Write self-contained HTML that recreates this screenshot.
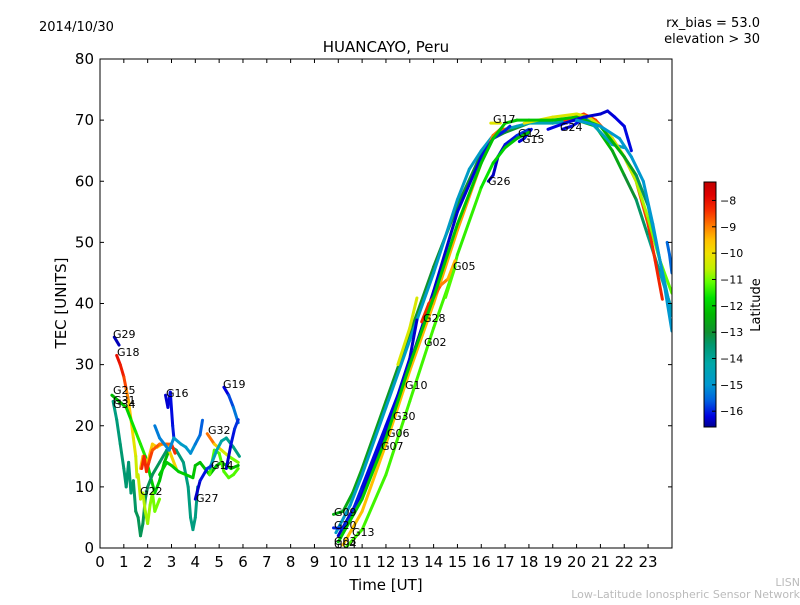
<!DOCTYPE html>
<html><head><meta charset="utf-8"><style>
body{margin:0;background:#fff;}
svg text{font-family:"DejaVu Sans","Liberation Sans",sans-serif;}
</style></head><body>
<svg id="chart" width="800" height="600" xmlns="http://www.w3.org/2000/svg">
<defs>
<linearGradient id="cbg" x1="0" y1="0" x2="0" y2="1"></linearGradient>
<clipPath id="pc"><rect x="100" y="59" width="572" height="489"/></clipPath>
</defs>
<text x="39" y="31" font-size="13">2014/10/30</text>
<text x="760" y="27" font-size="13" text-anchor="end">rx_bias = 53.0</text>
<text x="760" y="43" font-size="13" text-anchor="end">elevation &gt; 30</text>
<text x="386" y="52" font-size="15" text-anchor="middle">HUANCAYO, Peru</text>
<g id="marks" clip-path="url(#pc)"></g>
<g id="labels"></g>
<rect x="100" y="59" width="572" height="489" fill="none" stroke="#000" stroke-width="1"/>
<g id="axes"></g>
<text x="386" y="590" font-size="15" text-anchor="middle">Time [UT]</text>
<text transform="translate(66,303) rotate(-90)" font-size="15" text-anchor="middle">TEC [UNITS]</text>
<rect x="704" y="182" width="12" height="245" fill="url(#cbg)" stroke="#000" stroke-width="1"/>
<g id="cbaxis"></g>
<text transform="translate(760,305) rotate(-90)" font-size="13" text-anchor="middle">Latitude</text>
<text x="800" y="586" font-size="11" fill="#bbb" text-anchor="end">LISN</text>
<text x="800" y="598" font-size="11" fill="#bbb" text-anchor="end">Low-Latitude Ionospheric Sensor Network</text>
</svg>
<script>
const xTicks=[0,1,2,3,4,5,6,7,8,9,10,11,12,13,14,15,16,17,18,19,20,21,22,23];
const yTicks=[0,10,20,30,40,50,60,70,80];
const cbTicks=[-8,-9,-10,-11,-12,-13,-14,-15,-16];
const latMin=-16.6, latMax=-7.3;
const seriesNames=["G29","G18","G25","G31","G22y","G22o","G22r","G16","G16b","G16t","mid-green","mid-lime","G32","G32t","G19","G27","G27b",
"G09","R-teal","R-orange","R-blue","G26","G15","G24","R-lime","G20","G10y","G28","G05","G17y","D-red","D-yellow","D-green","D-blue","D-teal","edge-blue"];
const seriesTimes=[
[0.6,0.8],
[0.7,0.85,1.0,1.1,1.2,1.3,1.4,1.5,1.55],
[0.5,0.8,1.1,1.3,1.5,1.7,1.9,2.1,2.3,2.5,2.7,2.9],
[0.55,0.7,0.85,1.0,1.1,1.2,1.3,1.4,1.5,1.6,1.7,1.8,1.9,2.0,2.2,2.5,2.8,3.0,3.2,3.5,3.7,3.8,3.9,4.0,4.1],
[1.6,1.7,1.8,1.9,2.0,2.1,2.2,2.3,2.5],
[1.7,1.8,2.0,2.2,2.4,2.6,2.8,3.0,3.2],
[1.75,1.85,1.95,2.05,2.2,2.5,2.8,3.0,3.15],
[2.75,2.85,2.95,3.05,3.1],
[2.3,2.5,2.7,2.9,3.1],
[3.1,3.4,3.6,3.8,4.0,4.2,4.3],
[2.5,2.8,3.0,3.3,3.6,3.9,4.0,4.2,4.4,4.6,4.9,5.1,5.5,5.8],
[4.6,4.8,5.0,5.2,5.4,5.6,5.8],
[4.5,4.8,5.1,5.4,5.8],
[4.6,4.9,5.1,5.3,5.6,5.85],
[5.2,5.4,5.6,5.8],
[4.0,4.2,4.5,4.7],
[5.3,5.5,5.65,5.8],
[9.8,10.2,10.6,11,12,13,14,15,16,16.5,17,18,19,20,20.8,21.5,22,22.5,23,23.5,24],
[9.9,10.5,11,12,13,14,15,15.5,16,16.5,17,17.5,18,19,20,20.5,21,21.5,22],
[10.2,11,12,13,14,15,16,16.5,16.8,17.1],
[10,11,12,13,14,15,16,16.5,17,17.2],
[16.3,16.5,16.7,17,17.5,18],
[17.6,17.8,18.1],
[19.4,19.8,20.2,20.5],
[10.3,11,12,13,14,14.8,15,16,16.5,17,17.5,18],
[9.8,10.2,10.5,11,12,12.5,13,13.3],
[12.5,13,13.3],
[13.5,13.8,14,14.3,14.6,14.9],
[14.5,14.9],
[16.4,16.8],
[19.5,20.3,20.8,21.5,22,22.5,23,23.3,23.6],
[17.8,19,20,20.5,21,21.5,22,22.5,23,23.5,24],
[10,11,12,13,14,15,16,16.5,17,17.5,18,19,20,21,22,22.5,23,23.5,24],
[18.8,19.5,20.3,21,21.3,21.6,22,22.3],
[20,21,21.8,22.3,22.8,23.2,23.6,24],
[23.8,23.9,24]];
const seriesTec=[
[34.5,33.2],
[31.5,30,28,26,24,21,18,15,11.6],
[25,24,23,21,19,17,15,12,9,11,14,16],
[24,21,17,13,10,14,9,11,6,5,2,4,8,10,12,14,16,16.5,16,14,10,5,3,5,10],
[12,8,9,6,4,7,9,6,8],
[13,15,14,17,16.5,17,17,15,13],
[13,15,12.5,14,16,17,17,17,15.5],
[25,23,25.5,20,18],
[20,18,17,16,18],
[18,17,16.5,15.5,17,18.5,20.9],
[12,14,13.5,12.5,12,11.5,13.5,14,13,12,13.5,14,13,13.5],
[12,16,15.5,12.5,11.5,12,13],
[18.7,17,16,15,14],
[13,16,17.5,18,16.5,15],
[26.3,25,23,20.5],
[8,11,13,13.5],
[13,17,19.5,21],
[5.5,6,9,13,24,35,46,56,64.5,67,68,69.5,70,70,69,65,61,57,51,45,39],
[2.5,7,12,23,34,45,57,62,65,67.5,68.5,69,69.5,69.5,70,70,68,66,65.5],
[0.5,6,17,29,40,52,63,67.5,68.5,68.5],
[2,9,19,30,42,55,64,67,68.3,69],
[60,61,64,66,67.5,68.5],
[66.5,67,68.5],
[68.5,69,70,70.5],
[0,3,12,24,36,45,48,59,63,65.5,67,68],
[3.3,3.2,5,10,20,25,31,37.3],
[30,36,40.9],
[37,40,41,43,44,47],
[41,46],
[69.5,69.5],
[70,71,70,67,64,60,53,47,40.7],
[69.5,70.5,71,70.5,69,67,64,60,54,47,41.7],
[1,8,18,30,41,53,63,67,69.5,70,70,70,70.5,69,64,61,56,47,38],
[68.5,69.5,70.5,71,71.5,70.5,69,65],
[70,69,67,64,60,53,45,35.5],
[50,48,45]];
const seriesLat=[
[-16.4,-16.4],
[-8,-8,-8.3,-8.8,-9.3,-9.8,-10,-10.3,-10.6],
[-12.3,-12.3,-12,-11.8,-11.5,-11.5,-11.5,-12,-12,-12,-12.3,-12.3],
[-13.7,-13.7,-13.5,-13.5,-13.5,-13.5,-13.5,-13.5,-13.3,-13.3,-13.3,-13.3,-13.3,-13.3,-13.3,-13.3,-13.5,-13.5,-13.5,-13.7,-13.7,-13.7,-13.7,-13.7,-13.7],
[-10.5,-10.5,-10.6,-10.7,-10.8,-10.8,-11,-11,-11],
[-9.5,-9.5,-9.6,-9.6,-9.7,-9.7,-9.8,-9.8,-9.8],
[-8.3,-8.3,-8.3,-8.4,-8.6,-8.8,-9,-8.5,-8.2],
[-16.3,-16.3,-16.2,-16.1,-16],
[-15.3,-15.3,-15.2,-15.2,-15.1],
[-15,-14.8,-14.8,-15,-15.2,-15.5,-15.7],
[-12,-12,-12,-12,-12,-12,-12.2,-12.2,-12.2,-12.2,-12.2,-12.3,-12.3,-12.3],
[-11.2,-11.2,-11.2,-11.2,-11.2,-11.2,-11.2],
[-8.5,-9.3,-10,-10.7,-11.3],
[-14.6,-14.4,-14.2,-14,-13.8,-13.6],
[-16.4,-16,-15.5,-15.2],
[-16.4,-16.2,-16,-15.8],
[-16.4,-16.2,-16,-15.8],
[-12.5,-12.5,-12.6,-12.7,-12.8,-12.9,-13,-13,-13,-13,-13,-12.8,-12.5,-12.3,-12.2,-12.4,-12.8,-13.2,-13.6,-14,-14.4],
[-14.8,-14.8,-14.8,-14.8,-14.8,-14.8,-14.8,-14.8,-14.8,-14.8,-14.7,-14.6,-14.5,-14.4,-14.4,-14.4,-14.5,-14.6,-14.8],
[-9.5,-9.5,-9.5,-9.5,-9.4,-9.3,-9.2,-9,-8.8,-8.6],
[-16.3,-16.3,-16.3,-16.3,-16.3,-16.3,-16.2,-16.1,-16,-16],
[-16.4,-16.4,-16.3,-16.2,-16,-15.8],
[-16.3,-16.2,-16.1],
[-16.3,-16.2,-16,-15.8],
[-11.3,-11.3,-11.3,-11.3,-11.3,-11.3,-11.3,-11.5,-11.8,-12,-12.2,-12.3],
[-16,-16,-16,-16.1,-16.2,-16.2,-16.3,-16.3],
[-10.3,-10.3,-10.3],
[-8.3,-8.3,-8.5,-8.8,-9.2,-9.6],
[-11.2,-11.2],
[-10.2,-10.2],
[-8.6,-8.4,-8.5,-8.6,-8.7,-8.6,-8.4,-8.3,-8.2],
[-10,-10.2,-10.3,-10.3,-10.4,-10.4,-10.5,-10.6,-10.8,-11,-11.2],
[-12,-12,-12,-12.1,-12.1,-12.1,-12.1,-12.1,-12.1,-12.1,-12.1,-12.1,-12.2,-12.3,-12.5,-13,-13.7,-14.4,-15],
[-16.2,-16.2,-16.3,-16.3,-16.3,-16.2,-16.2,-16.1],
[-15,-15,-15,-15,-15,-15,-15,-15],
[-15.5,-15.5,-15.5]];
const labelTexts=["G29","G18","G25","G31","G34","G16","G19","G32","G14","G22","G27","G09","G20","G13","G03","G04","G07","G06","G30","G10","G02","G28","G05","G26","G17","G12","G15","G24"];
const labelX=[113,117,113,113,113,166,223,208,211,140,196,334,334,352,334,334,381,387,393,405,424,423,453,488,493,518,522,560];
const labelY=[338,356,394,404,408,397,388,434,469,495,502,516,529,536,545,548,450,437,420,389,346,322,270,185,123,137,143,131];
const cmapLat=[-16.6,-16.2,-15.6,-15.0,-14.2,-13.5,-13.0,-12.3,-11.7,-11.1,-10.6,-10.0,-9.5,-9.0,-8.4,-7.8,-7.3];
const cmapCol=[[0,0,144],[0,0,224],[0,96,224],[0,152,208],[0,168,168],[0,152,112],[16,144,48],[0,184,0],[0,224,0],[96,255,0],[192,240,0],[240,224,0],[255,192,0],[255,128,0],[248,48,0],[224,0,0],[192,0,0]];

const NS="http://www.w3.org/2000/svg";
const px=t=>100+t*(571.9/24), py=v=>548-v*(489/80);
const cy=l=>182+(latMax-l)/(latMax-latMin)*245;
function cmap(l){l=Math.max(latMin,Math.min(latMax,l));
 for(let i=0;i<cmapLat.length-1;i++){if(l<=cmapLat[i+1]){const f=(l-cmapLat[i])/(cmapLat[i+1]-cmapLat[i]);
  const c=cmapCol[i].map((v,k)=>Math.round(v+(cmapCol[i+1][k]-v)*f));return `rgb(${c})`;}}
 return `rgb(${cmapCol[cmapCol.length-1]})`;}
function mk(tag,attrs,parent){const e=document.createElementNS(NS,tag);for(const k in attrs)e.setAttribute(k,attrs[k]);parent.appendChild(e);return e;}
const grad=document.getElementById('cbg');
for(let i=cmapLat.length-1;i>=0;i--){
 mk('stop',{offset:((latMax-cmapLat[i])/(latMax-latMin)).toFixed(4),'stop-color':`rgb(${cmapCol[i]})`},grad);
}
const marks=document.getElementById('marks');
seriesTimes.forEach((ts,i)=>{
 const g=mk('g',{},marks);
 
 
 for(let j=0;j<ts.length-1;j++){
  const l=(seriesLat[i][j]+seriesLat[i][j+1])/2;
  const s=mk('line',{x1:px(ts[j]),y1:py(seriesTec[i][j]),x2:px(ts[j+1]),y2:py(seriesTec[i][j+1]),stroke:cmap(l),'stroke-width':3,'stroke-linecap':'round'},g);
  
  
 }
});
const lab=document.getElementById('labels');
labelTexts.forEach((t,i)=>{const e=mk('text',{x:labelX[i],y:labelY[i],'font-size':11},lab);e.textContent=t;
 
 });
const ax=document.getElementById('axes');
xTicks.forEach(t=>{const x=px(t);
 mk('line',{x1:x,y1:548,x2:x,y2:544,stroke:'#000'},ax);mk('line',{x1:x,y1:59,x2:x,y2:63,stroke:'#000'},ax);
 const e=mk('text',{x:x,y:567,'font-size':15,'text-anchor':'middle'},ax);e.textContent=t;
 
 });
yTicks.forEach(v=>{const y=py(v);
 mk('line',{x1:100,y1:y,x2:104,y2:y,stroke:'#000'},ax);mk('line',{x1:672,y1:y,x2:668,y2:y,stroke:'#000'},ax);
 const e=mk('text',{x:94,y:y+5,'font-size':15,'text-anchor':'end'},ax);e.textContent=v;
 
 });
const cb=document.getElementById('cbaxis');
cbTicks.forEach(l=>{const y=cy(l);
 mk('line',{x1:712,y1:y,x2:716,y2:y,stroke:'#000'},cb);
 const e=mk('text',{x:720,y:y+4,'font-size':11},cb);e.textContent='\u2212'+Math.abs(l);
 
 });
</script>
</body></html>
